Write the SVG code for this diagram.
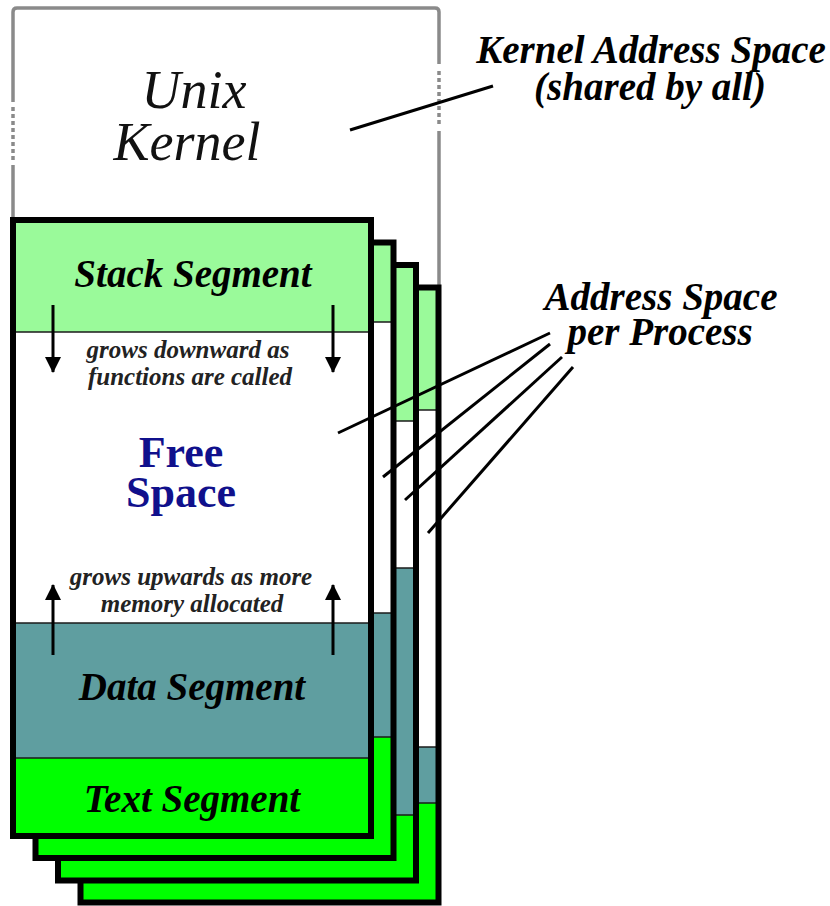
<svg xmlns="http://www.w3.org/2000/svg" width="830" height="906" viewBox="0 0 830 906">
  <defs>
    <style>
      .kern { fill: none; stroke: #8a8a8a; stroke-width: 3.5; }
      .kdash { fill: none; stroke: #8a8a8a; stroke-width: 3.5; stroke-dasharray: 4 3; }
      .stack { fill: #9afa9a; }
      .free { fill: #ffffff; }
      .data { fill: #5f9ea0; }
      .text { fill: #00ff00; }
      .div { stroke: #1a1a1a; stroke-width: 1.5; }
      .outline { fill: none; stroke: #000; stroke-width: 6; stroke-linejoin: miter; }
      .conn { stroke: #000; stroke-width: 3; fill: none; }
      .arrow { stroke: #000; stroke-width: 3; fill: none; }
      .big { font-family: "Liberation Serif", "Times New Roman", serif; font-style: italic; font-weight: bold; font-size: 39px; fill: #000; text-anchor: middle; }
      .small { font-family: "Liberation Serif", "Times New Roman", serif; font-style: italic; font-weight: bold; font-size: 25px; fill: #222; text-anchor: middle; }
      .unix { font-family: "Liberation Serif", "Times New Roman", serif; font-style: italic; font-size: 54px; fill: #111; text-anchor: middle; }
      .freetxt { font-family: "Liberation Serif", "Times New Roman", serif; font-weight: bold; font-size: 44px; fill: #10108c; text-anchor: middle; }
    </style>
    <marker id="ah" markerUnits="userSpaceOnUse" markerWidth="16" markerHeight="16" viewBox="0 0 16 16" refX="15" refY="8" orient="auto">
      <path d="M0,0 L16,8 L0,16 Z" fill="#000"/>
    </marker>
  </defs>

  <g id="kernel">
    <path class="kern" d="M13,225 V165"/>
    <path class="kdash" d="M13,160 V104"/>
    <path class="kern" d="M13,102 V12 Q13,8 17,8 H435 Q439,8 439,12 V64"/>
    <path class="kdash" d="M439,71 V127"/>
    <path class="kern" d="M439,131 V292"/>
    <text class="unix" x="194" y="108">Unix</text>
    <text class="unix" x="187" y="160">Kernel</text>
  </g>

  <g id="process-4">
    <rect class="stack" x="80.5" y="287.5" width="358" height="122.5"/>
    <rect class="free" x="80.5" y="410" width="358" height="337"/>
    <rect class="data" x="80.5" y="747" width="358" height="56"/>
    <rect class="text" x="80.5" y="803" width="358" height="100.5"/>
    <line class="div" x1="80.5" y1="410" x2="438.5" y2="410"/>
    <line class="div" x1="80.5" y1="747" x2="438.5" y2="747"/>
    <line class="div" x1="80.5" y1="803" x2="438.5" y2="803"/>
    <rect class="outline" x="80.5" y="287.5" width="358" height="615"/>
  </g>

  <g id="process-3">
    <rect class="stack" x="58" y="265" width="358" height="156"/>
    <rect class="free" x="58" y="421" width="358" height="147"/>
    <rect class="data" x="58" y="568" width="358" height="247"/>
    <rect class="text" x="58" y="815" width="358" height="66"/>
    <line class="div" x1="58" y1="421" x2="416" y2="421"/>
    <line class="div" x1="58" y1="568" x2="416" y2="568"/>
    <line class="div" x1="58" y1="815" x2="416" y2="815"/>
    <rect class="outline" x="58" y="265" width="358" height="615.5"/>
  </g>

  <g id="process-2">
    <rect class="stack" x="35.5" y="242.5" width="358" height="79.5"/>
    <rect class="free" x="35.5" y="322" width="358" height="291"/>
    <rect class="data" x="35.5" y="613" width="358" height="124"/>
    <rect class="text" x="35.5" y="737" width="358" height="121.5"/>
    <line class="div" x1="35.5" y1="322" x2="393.5" y2="322"/>
    <line class="div" x1="35.5" y1="613" x2="393.5" y2="613"/>
    <line class="div" x1="35.5" y1="737" x2="393.5" y2="737"/>
    <rect class="outline" x="35.5" y="242.5" width="358" height="615.5"/>
  </g>

  <g id="process-1">
    <rect class="stack" x="13" y="220" width="358" height="112"/>
    <rect class="free" x="13" y="332" width="358" height="291"/>
    <rect class="data" x="13" y="623" width="358" height="135"/>
    <rect class="text" x="13" y="758" width="358" height="78"/>
    <line class="div" x1="13" y1="332" x2="371" y2="332"/>
    <line class="div" x1="13" y1="623" x2="371" y2="623"/>
    <line class="div" x1="13" y1="758" x2="371" y2="758"/>
    <rect class="outline" x="13" y="220" width="358" height="616"/>
    <text class="big" x="193" y="287">Stack Segment</text>
    <text class="small" x="188" y="358">grows downward as</text>
    <text class="small" x="190" y="385">functions are called</text>
    <text class="freetxt" x="181" y="467">Free</text>
    <text class="freetxt" x="181" y="507">Space</text>
    <text class="small" x="191" y="585">grows upwards as more</text>
    <text class="small" x="192" y="612">memory allocated</text>
    <text class="big" x="192" y="700">Data Segment</text>
    <text class="big" x="192" y="812">Text Segment</text>
    <line class="arrow" x1="53" y1="305" x2="53" y2="372" marker-end="url(#ah)"/>
    <line class="arrow" x1="333" y1="305" x2="333" y2="372" marker-end="url(#ah)"/>
    <line class="arrow" x1="53" y1="655" x2="53" y2="585" marker-end="url(#ah)"/>
    <line class="arrow" x1="333" y1="655" x2="333" y2="585" marker-end="url(#ah)"/>
  </g>

  <g id="labels">
    <text class="big" x="651" y="63">Kernel Address Space</text>
    <text class="big" x="650" y="100">(shared by all)</text>
    <text class="big" x="661" y="310">Address Space</text>
    <text class="big" x="660" y="345">per Process</text>
  </g>

  <g id="connectors">
    <line class="conn" x1="350" y1="130" x2="493" y2="86"/>
    <line class="conn" x1="550" y1="333" x2="338" y2="433"/>
    <line class="conn" x1="550" y1="344" x2="383" y2="477"/>
    <line class="conn" x1="562" y1="357" x2="405" y2="500"/>
    <line class="conn" x1="573" y1="367" x2="428" y2="533"/>
  </g>
</svg>
